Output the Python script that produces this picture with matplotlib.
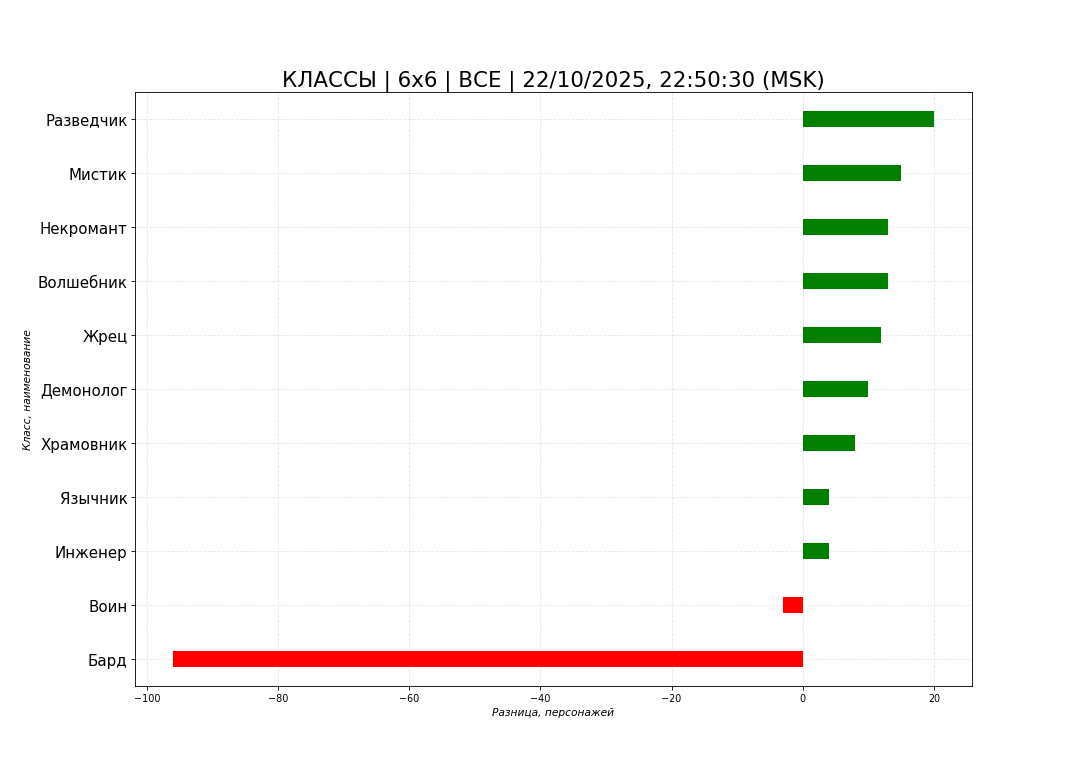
import matplotlib
matplotlib.use('Agg')
import matplotlib.pyplot as plt

# данные
classes = ['Бард', 'Воин', 'Инженер', 'Язычник', 'Храмовник', 'Демонолог',
           'Жрец', 'Волшебник', 'Некромант', 'Мистик', 'Разведчик']
diff = [-96, -3, 4, 4, 8, 10, 12, 13, 13, 15, 20]

colors = ['green' if v > 0 else 'red' for v in diff]

fig, ax = plt.subplots(figsize=(14, 10), dpi=1080 / 14)
ax.barh(classes, diff, height=0.3, color=colors, zorder=3)

ax.set_title('КЛАССЫ | 6x6 | ВСЕ | 22/10/2025, 22:50:30 (MSK)', fontsize=20)
ax.set_xlabel('Разница, персонажей', fontsize=9.9, style='italic')
ax.set_ylabel('Класс, наименование', fontsize=9.9, style='italic')
ax.tick_params(axis='y', labelsize=14)
ax.tick_params(axis='x', labelsize=9)
ax.set_ylim(-0.5, len(classes) - 0.5)
ax.grid(True, linestyle='--', linewidth=0.8, alpha=0.3, zorder=0)

plt.savefig('out.png')
